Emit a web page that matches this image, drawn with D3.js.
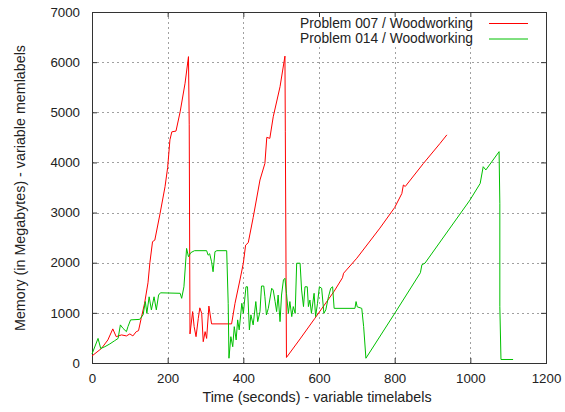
<!DOCTYPE html>
<html>
<head>
<meta charset="utf-8">
<script src="https://cdn.jsdelivr.net/npm/d3@7"></script>
<style>
  body { margin: 0; background: #fff; }
  svg { display: block; }
  text { font-family: "Liberation Sans", Arial, sans-serif; fill: #222; }
</style>
</head>
<body>
<div id="chart"></div>
<script>
// series (seconds, megabytes)
var seriesNames = ["Problem 007 / Woodworking", "Problem 014 / Woodworking"];
var seriesColors = ["#ff0000", "#00c000"];

var t007 = [0, 25, 42, 55, 64, 78, 91, 100, 108, 117, 123, 130, 139, 148, 153, 160, 166, 180, 193, 200, 206, 211, 222, 233, 246, 255,
    257, 259, 266, 270, 275, 281, 285, 290, 294, 299, 303, 309, 316, 369, 378, 391, 400, 406, 413, 426, 444, 457, 462, 470, 479, 497, 510,
    511, 514, 550, 589, 640, 662, 665, 700, 761, 800, 819, 823, 828, 876, 920, 938];
var m007 = [140, 290, 460, 680, 525, 560, 540, 580, 540, 625, 645, 890, 1190, 1600, 2000, 2420, 2450, 2985, 3515, 3900, 4450, 4610, 4625, 5010, 5580, 6110,
    4750, 580, 1025, 725, 525, 890, 1100, 990, 425, 625, 490, 1135, 780, 780, 1190, 1655, 1990, 2350, 2400, 2900, 3650, 3980, 4500, 4480, 4910, 5510, 6120,
    4610, 110, 480, 890, 1430, 1700, 1790, 2090, 2690, 3100, 3380, 3550, 3520, 3980, 4380, 4550];

var t014 = [0, 16, 23, 34, 47, 60, 69, 75, 82, 91, 95, 102, 126, 135, 141, 145, 151, 157, 164, 170, 176, 181, 233, 237, 243, 250, 255, 261, 271,
    303, 307, 311, 316, 320, 325, 330, 356, 360, 362, 367, 372, 376, 381, 385, 389, 396, 400, 407, 411, 416, 420, 426, 433, 438, 444,
    448, 454, 457, 461, 466, 475, 479, 484, 488, 492, 497, 501, 506, 510, 514, 519, 523, 528, 532, 537, 541, 550, 554, 559, 563, 569,
    572, 576, 580, 587, 591, 596, 601, 607, 613, 618, 625, 631, 636, 640, 695, 698, 701, 713, 718, 724, 801, 868, 872, 880, 999, 1026,
    1034, 1041, 1076, 1078, 1078, 1081, 1113];
var m014 = [180, 490, 290, 325, 380, 445, 490, 760, 690, 625, 725, 860, 870, 960, 1225, 990, 1320, 1060, 1320, 1060, 1355, 1400, 1390, 1290, 1520, 2285, 2120, 2200, 2240,
    2240, 2150, 2180, 2020, 1820, 2220, 2240, 2240, 1190, 95, 525, 325, 725, 460, 860, 660, 1190, 990, 1520, 1520, 660, 960, 760, 1225, 825, 1025,
    1535, 1535, 1320, 960, 1090, 1490, 1455, 1225, 1025, 1355, 825, 1355, 1655, 1690, 1390, 990, 1225, 925, 1125, 990, 1990, 1990, 1455, 1125, 1520, 1520,
    1125, 1255, 990, 1390, 925, 1190, 1520, 1490, 990, 1060, 1320, 1490, 1520, 1090, 1090, 1225, 1120, 1090, 725, 95, 1000, 1800, 1960, 1990, 3250, 3580,
    3915, 3850, 4215, 3185, 1125, 70, 70];

var xTicks = [0, 200, 400, 600, 800, 1000, 1200];
var yTicks = [0, 1000, 2000, 3000, 4000, 5000, 6000, 7000];

var W = 565, H = 412;
var margin = { top: 12, right: 19, bottom: 49, left: 92 };
var width = W - margin.left - margin.right,
    height = H - margin.top - margin.bottom;

var svg = d3.select("#chart").append("svg")
    .attr("width", W)
    .attr("height", H);

var g = svg.append("g")
    .attr("transform", "translate(" + margin.left + "," + margin.top + ")");

var x = d3.scaleLinear().domain([0, 1200]).range([0, width]);
var y = d3.scaleLinear().domain([0, 7000]).range([height, 0]);

// dotted grid
g.append("g").selectAll("line")
    .data(xTicks.slice(1, -1))
    .enter().append("line")
    .attr("x1", function (d) { return Math.round(x(d)) + 0.5; })
    .attr("x2", function (d) { return Math.round(x(d)) + 0.5; })
    .attr("y1", 0).attr("y2", height)
    .attr("stroke", "#a0a0a0").attr("stroke-dasharray", "2,3");
g.append("g").selectAll("line")
    .data(yTicks.slice(1, -1))
    .enter().append("line")
    .attr("y1", function (d) { return Math.round(y(d)) + 0.5; })
    .attr("y2", function (d) { return Math.round(y(d)) + 0.5; })
    .attr("x1", 0).attr("x2", width)
    .attr("stroke", "#a0a0a0").attr("stroke-dasharray", "2,3");

// key background hides the grid behind it
g.append("rect")
    .attr("x", 205).attr("y", 1).attr("width", width - 206).attr("height", 34)
    .attr("fill", "#fff");

// axes with inward ticks
var fmt = d3.format("d");
var axBottom = g.append("g").attr("transform", "translate(0," + height + ")")
    .call(d3.axisBottom(x).tickValues(xTicks).tickFormat(fmt).tickSizeInner(-5).tickSizeOuter(0).tickPadding(11));
var axLeft = g.append("g")
    .call(d3.axisLeft(y).tickValues(yTicks).tickFormat(fmt).tickSizeInner(-5).tickSizeOuter(0).tickPadding(12));
var axTop = g.append("g")
    .call(d3.axisTop(x).tickValues(xTicks).tickSizeInner(-5).tickSizeOuter(0).tickFormat(""));
var axRight = g.append("g").attr("transform", "translate(" + width + ",0)")
    .call(d3.axisRight(y).tickValues(yTicks).tickSizeInner(-5).tickSizeOuter(0).tickFormat(""));

[axBottom, axLeft, axTop, axRight].forEach(function (a) {
    a.select(".domain").remove();
    a.selectAll("line").attr("stroke", "#333");
    a.selectAll("text").attr("font-size", 13.3).attr("fill", "#2a2a2a")
        .attr("font-family", "Liberation Sans, Arial, sans-serif");
});

// frame
g.append("rect")
    .attr("x", 0.5).attr("y", 0.5)
    .attr("width", width).attr("height", height)
    .attr("fill", "none").attr("stroke", "#333");

var line = d3.line()
    .x(function (d) { return x(d[0]); })
    .y(function (d) { return y(d[1]); });

var data = [d3.zip(t007, m007), d3.zip(t014, m014)];

g.selectAll("path.series")
    .data(data)
    .enter().append("path")
    .attr("class", "series")
    .attr("d", line)
    .attr("fill", "none")
    .attr("stroke", function (d, i) { return seriesColors[i]; })
    .attr("stroke-width", 1);

// key
var key = g.selectAll("g.key")
    .data(seriesNames)
    .enter().append("g")
    .attr("class", "key")
    .attr("transform", function (d, i) { return "translate(0," + (11 + i * 15.5) + ")"; });
key.append("text")
    .attr("x", 381)
    .attr("dy", "0.35em")
    .attr("text-anchor", "end")
    .attr("font-size", 13.8)
    .attr("fill", "#2a2a2a")
    .text(function (d) { return d; });
key.append("line")
    .attr("x1", 397).attr("x2", 436)
    .attr("y1", 0.5).attr("y2", 0.5)
    .attr("stroke", function (d, i) { return seriesColors[i]; });

// axis titles
svg.append("text")
    .attr("x", 317).attr("y", 402)
    .attr("text-anchor", "middle")
    .attr("font-size", 14.3)
    .attr("fill", "#2a2a2a")
    .text("Time (seconds) - variable timelabels");
svg.append("text")
    .attr("transform", "translate(25," + 188 + ") rotate(-90)")
    .attr("text-anchor", "middle")
    .attr("font-size", 14.3)
    .attr("fill", "#2a2a2a")
    .text("Memory (in Megabytes) - variable memlabels");
</script>
</body>
</html>
